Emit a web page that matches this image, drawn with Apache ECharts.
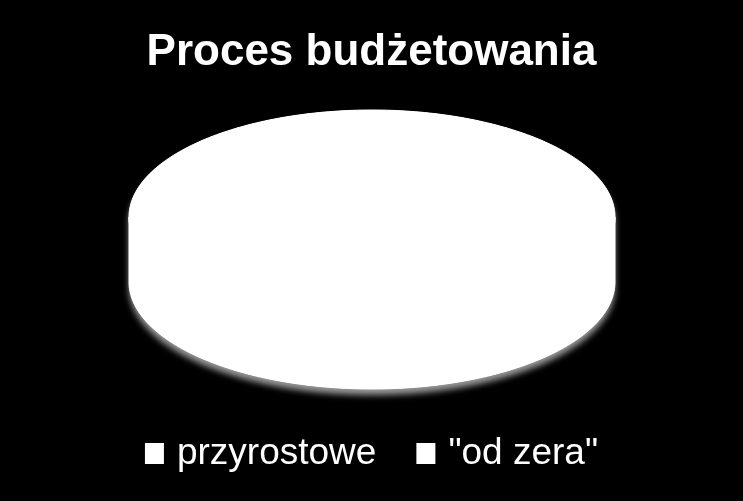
<!DOCTYPE html>
<html>
<head>
<meta charset="utf-8">
<script src="https://cdn.jsdelivr.net/npm/echarts@6/dist/echarts.min.js"></script>
<style>
html, body { margin: 0; padding: 0; background: #000; }
#chart { width: 743px; height: 501px; }
</style>
</head>
<body>
<div id="chart"></div>
<script>
// dane wykresu
var titleText = 'Proces budżetowania';
var categories = ['przyrostowe', '"od zera"'];
var values = [50, 50];
var colors = ['#ffffff', '#ffffff'];

// geometria "tortu" 3D
var cx = 372, cy = 217, rx = 243, ry = 107, depth = 65;

var total = 0;
for (var i = 0; i < values.length; i++) total += values[i];

function arcPts(a0, a1, dy, rev) {
    var pts = [];
    var n = Math.max(2, Math.ceil((a1 - a0) / 0.02));
    for (var k = 0; k <= n; k++) {
        var t = a0 + (a1 - a0) * k / n;
        pts.push([cx + rx * Math.cos(t), cy + dy + ry * Math.sin(t)]);
    }
    if (rev) pts.reverse();
    return pts;
}

function renderSlice(params, api) {
    var idx = params.seriesIndex;
    var before = 0;
    for (var i = 0; i < idx; i++) before += values[i];
    var a0 = -Math.PI / 2 + 2 * Math.PI * before / total;
    var a1 = a0 + 2 * Math.PI * values[idx] / total;
    var color = api.visual('color');
    var children = [];
    // cien pod calym ksztaltem (tylko pierwsza seria)
    if (idx === 0) {
        var sil = arcPts(Math.PI, 2 * Math.PI, 0, false).concat(arcPts(0, Math.PI, depth, false));
        children.push({
            type: 'polygon',
            shape: { points: sil },
            style: {
                fill: '#fff',
                shadowBlur: 6,
                shadowColor: 'rgba(170,170,170,0.9)',
                shadowOffsetY: 6
            }
        });
    }
    // sciana boczna - tylko przednia polowa
    for (var k = -1; k <= 2; k++) {
        var s = Math.max(a0, 2 * Math.PI * k);
        var e = Math.min(a1, 2 * Math.PI * k + Math.PI);
        if (e > s) {
            var pts = arcPts(s, e, 0, false).concat(arcPts(s, e, depth, true));
            children.push({
                type: 'polygon',
                shape: { points: pts },
                style: { fill: color, stroke: color, lineWidth: 1 }
            });
        }
    }
    // gorna powierzchnia
    var top = [[cx, cy]].concat(arcPts(a0, a1, 0, false));
    children.push({
        type: 'polygon',
        shape: { points: top },
        style: { fill: color, stroke: color, lineWidth: 1 }
    });
    return { type: 'group', children: children };
}

var series = [];
for (var j = 0; j < categories.length; j++) {
    series.push({
        name: categories[j],
        type: 'custom',
        coordinateSystem: 'none',
        itemStyle: { color: colors[j] },
        renderItem: renderSlice,
        data: [[values[j]]]
    });
}

var myChart = echarts.init(document.getElementById('chart'));
var option = {
    backgroundColor: '#000',
    animation: false,
    title: {
        text: titleText,
        left: 'center',
        top: 26,
        textStyle: {
            color: '#fff',
            fontSize: 44,
            fontWeight: 'bold',
            fontFamily: 'Liberation Sans'
        }
    },
    legend: {
        data: categories,
        bottom: 24,
        left: 'center',
        icon: 'rect',
        itemWidth: 19,
        itemHeight: 21,
        itemGap: 40,
        textStyle: {
            color: '#fff',
            fontSize: 37,
            fontFamily: 'Liberation Sans',
            padding: [0, 0, 0, 8]
        }
    },
    series: series
};
myChart.setOption(option);
</script>
</body>
</html>
